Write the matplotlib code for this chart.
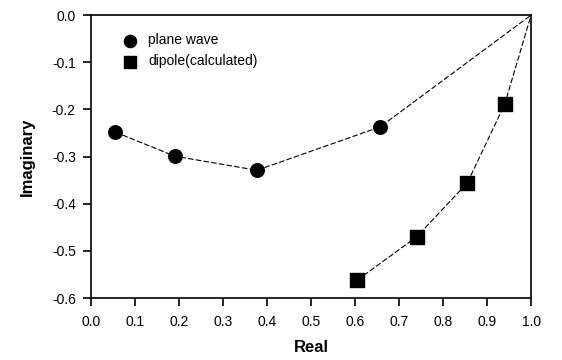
import matplotlib.pyplot as plt

plt.rcParams['font.family'] = ['Liberation Sans', 'DejaVu Sans']
plt.rcParams['axes.unicode_minus'] = False

# plane wave
pw_real = [0.055, 0.19, 0.377, 0.657, 1.0]
pw_imag = [-0.248, -0.299, -0.329, -0.237, 0.0]

# dipole (calculated)
dp_real = [0.605, 0.74, 0.855, 0.94, 1.0]
dp_imag = [-0.562, -0.47, -0.356, -0.189, 0.0]

fig = plt.figure(figsize=(5.62, 3.6), dpi=100)
ax = fig.add_axes([0.162, 0.172, 0.783, 0.786])

ax.plot(pw_real, pw_imag, color='black', linestyle='--', dashes=(5, 2), linewidth=0.8)
ax.plot(dp_real, dp_imag, color='black', linestyle='--', dashes=(5, 2), linewidth=0.8)
ax.scatter(pw_real[:-1], pw_imag[:-1], marker='o', s=95, color='black', zorder=3, label='plane wave')
ax.scatter(dp_real[:-1], dp_imag[:-1], marker='s', s=95, color='black', zorder=3, label='dipole(calculated)')

ax.set_xlim(0, 1.0)
ax.set_ylim(-0.6, 0.0)
ax.set_xticks([i / 10 for i in range(11)])
ax.set_yticks([-0.6, -0.5, -0.4, -0.3, -0.2, -0.1, 0.0])
ax.tick_params(axis='both', direction='out', length=6, width=1.2, labelsize=10)
ax.tick_params(axis='x', pad=6)
ax.tick_params(axis='y', pad=5)
for s in ax.spines.values():
    s.set_linewidth(1.2)

ax.set_xlabel('Real', fontsize=12, fontweight='bold', labelpad=8)
ax.set_ylabel('Imaginary', fontsize=12, fontweight='bold', labelpad=12)

ax.legend(loc='upper left', bbox_to_anchor=(0.035, 0.97), frameon=False, fontsize=10,
          handletextpad=0.3, borderaxespad=0.3, labelspacing=0.5, markerscale=0.9)

plt.savefig('out.png', dpi=100)
